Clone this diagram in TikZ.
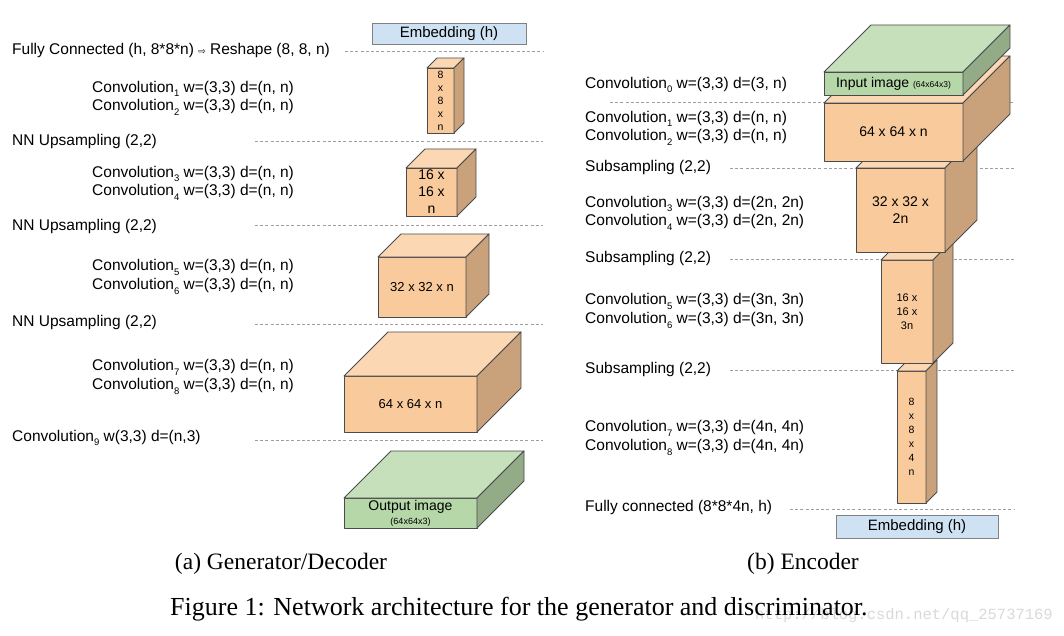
\documentclass[tikz,border=0pt]{standalone}
\usepackage{fontspec}
\setmainfont{Liberation Sans}
\newfontfamily\capfont{Liberation Serif}
\newfontfamily\symfont{DejaVu Sans}
\newfontfamily\markfont{Liberation Mono}
\usetikzlibrary{positioning}

\definecolor{orfront}{RGB}{249,203,156}
\definecolor{ortop}{RGB}{252,215,180}
\definecolor{orside}{RGB}{201,161,123}
\definecolor{grfront}{RGB}{182,215,168}
\definecolor{grtop}{RGB}{198,224,188}
\definecolor{grside}{RGB}{147,171,135}
\definecolor{embfill}{RGB}{207,226,243}
\definecolor{edge}{RGB}{75,75,75}

\tikzset{
  face/.style={draw=edge, line width=0.9pt, line join=round},
  front/.style={face, anchor=north west, inner sep=0pt, outer sep=0pt, align=center, font=\fontsize{14}{17}\selectfont},
  layer/.style={front, fill=orfront},
  image/.style={front, fill=grfront},
  embed/.style={draw=edge!70, fill=embfill, line width=0.9pt, anchor=north west, inner sep=0pt, outer sep=0pt, font=\fontsize{15}{17}\selectfont},
  op/.style={anchor=west, inner sep=0pt, align=left, font=\fontsize{15.5}{18.5}\selectfont},
  sep/.style={draw=gray!75, dash pattern=on 3pt off 2.2pt, line width=0.7pt},
  caption/.style={inner sep=0pt, font=\capfont\fontsize{23.5}{26}\selectfont},
}

% lowered index after "Convolution"
\newcommand{\idx}[1]{\raisebox{-0.3em}{\fontsize{9.5}{10}\selectfont #1}}

% top and side faces of a layer: node, depth, colour
\newcommand{\faces}[3]{%
  \draw[face, fill=#3top] (#1.north west) -- ++(#2,-#2) -- ([shift={(#2,-#2)}]#1.north east) -- (#1.north east) -- cycle;
  \draw[face, fill=#3side] (#1.north east) -- ++(#2,-#2) -- ([shift={(#2,-#2)}]#1.south east) -- (#1.south east) -- cycle;
}

\begin{document}
\begin{tikzpicture}[x=1pt, y=-1pt]
  \useasboundingbox (0,0) rectangle (1064,636);

  % (a) generator / decoder
  \draw[sep] (345,51) -- (543,51);
  \draw[sep] (255,141) -- (543,141);
  \draw[sep] (255,225) -- (543,225);
  \draw[sep] (255,324) -- (543,324);
  \draw[sep] (255,440) -- (543,440);

  \node[op] (FC1) at (12,50) {Fully Connected (h, 8*8*n) {\symfont\fontsize{9}{10}\selectfont ⇨} Reshape (8, 8, n)};
  \node[op] (C12) at (92,98) {Convolution\idx{1} w=(3,3) d=(n, n)\\Convolution\idx{2} w=(3,3) d=(n, n)};
  \node[op] (UP1) at (12,141) {NN Upsampling (2,2)};
  \node[op] (C34) at (92,183) {Convolution\idx{3} w=(3,3) d=(n, n)\\Convolution\idx{4} w=(3,3) d=(n, n)};
  \node[op] (UP2) at (12,226) {NN Upsampling (2,2)};
  \node[op] (C56) at (92,277) {Convolution\idx{5} w=(3,3) d=(n, n)\\Convolution\idx{6} w=(3,3) d=(n, n)};
  \node[op] (UP3) at (12,322) {NN Upsampling (2,2)};
  \node[op] (C78) at (92,377) {Convolution\idx{7} w=(3,3) d=(n, n)\\Convolution\idx{8} w=(3,3) d=(n, n)};
  \node[op] (C9) at (12,438) {Convolution\idx{9} w(3,3) d=(n,3)};

  \node[embed, minimum width=154, minimum height=21] (EMB1) at (372,23) {Embedding (h)};
  \node[layer, minimum width=27, minimum height=65, font=\fontsize{10.5}{13}\selectfont] (L1) at (427,68) {8\\x\\8\\x\\n};
  \faces{L1}{10}{or}
  \node[layer, minimum width=51, minimum height=48] (L2) at (406,168) {16 x\\16 x\\n};
  \faces{L2}{19}{or}
  \node[layer, minimum width=88, minimum height=60, font=\fontsize{13}{15}\selectfont] (L3) at (378,257) {32 x 32 x n};
  \faces{L3}{23}{or}
  \node[layer, minimum width=133, minimum height=56, font=\fontsize{13}{15}\selectfont] (L4) at (344,376) {64 x 64 x n};
  \faces{L4}{44}{or}
  \node[image, minimum width=133, minimum height=30] (OUT) at (344,498) {Output image\\[-3pt]{\fontsize{9}{10}\selectfont (64x64x3)}};
  \faces{OUT}{47}{gr}

  % (b) encoder
  \draw[sep] (610,102) -- (1015,102);
  \draw[sep] (730,168) -- (1015,168);
  \draw[sep] (730,259) -- (1015,259);
  \draw[sep] (730,370) -- (1015,370);
  \draw[sep] (790,509) -- (1015,509);

  \node[op] (C0) at (585,85) {Convolution\idx{0} w=(3,3) d=(3, n)};
  \node[op] (D12) at (585,128) {Convolution\idx{1} w=(3,3) d=(n, n)\\Convolution\idx{2} w=(3,3) d=(n, n)};
  \node[op] (SUB1) at (585,167) {Subsampling (2,2)};
  \node[op] (D34) at (585,213) {Convolution\idx{3} w=(3,3) d=(2n, 2n)\\Convolution\idx{4} w=(3,3) d=(2n, 2n)};
  \node[op] (SUB2) at (585,258) {Subsampling (2,2)};
  \node[op] (D56) at (585,311) {Convolution\idx{5} w=(3,3) d=(3n, 3n)\\Convolution\idx{6} w=(3,3) d=(3n, 3n)};
  \node[op] (SUB3) at (585,369) {Subsampling (2,2)};
  \node[op] (D78) at (585,438) {Convolution\idx{7} w=(3,3) d=(4n, 4n)\\Convolution\idx{8} w=(3,3) d=(4n, 4n)};
  \node[op] (FC2) at (585,507) {Fully connected (8*8*4n, h)};

  \node[embed, minimum width=162, minimum height=23] (EMB2) at (836,515) {Embedding (h)};
  \node[layer, minimum width=29, minimum height=132, font=\fontsize{10.5}{14}\selectfont] (E4) at (897,371) {8\\x\\8\\x\\4\\n};
  \faces{E4}{11}{or}
  \node[layer, minimum width=52, minimum height=103, font=\fontsize{11}{14}\selectfont] (E3) at (881,260) {16 x\\16 x\\3n};
  \faces{E3}{20}{or}
  \node[layer, minimum width=89, minimum height=84] (E2) at (856,168) {32 x 32 x\\2n};
  \faces{E2}{32}{or}
  \node[layer, minimum width=139, minimum height=58] (E1) at (824,103) {64 x 64 x n};
  \faces{E1}{47}{or}
  \node[image, minimum width=139, minimum height=23] (IN) at (824,72) {Input image {\fontsize{8.5}{10}\selectfont (64x64x3)}};
  \faces{IN}{47}{gr}

  % captions
  \node[anchor=east, inner sep=0pt, text=gray!30, font=\markfont\fontsize{15.5}{18}\selectfont] (WM) at (1053,615) {http://blog.csdn.net/qq\_25737169};
  \node[caption] (CAPA) at (281,564) {(a) Generator/Decoder};
  \node[caption] (CAPB) at (803,564) {(b) Encoder};
  \node[caption, anchor=west, font=\capfont\fontsize{26}{28}\selectfont] (FIG) at (170,609) {Figure 1: Network architecture for the generator and discriminator.};
\end{tikzpicture}
\end{document}
